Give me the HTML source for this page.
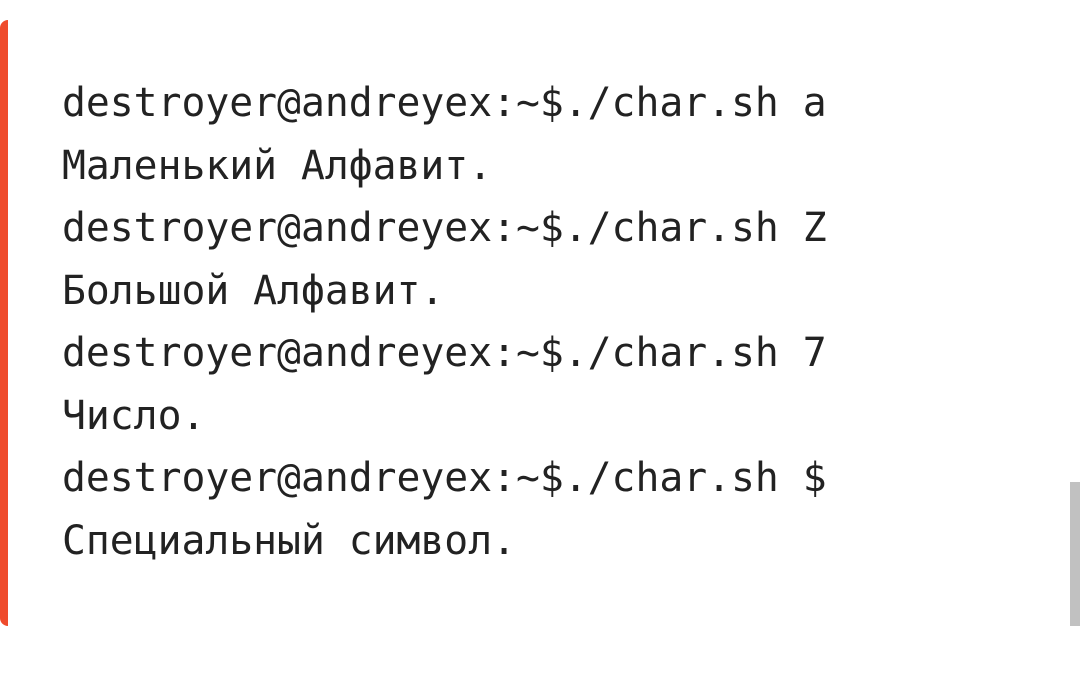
<!DOCTYPE html>
<html><head><meta charset="utf-8"><style>
html,body{margin:0;padding:0;background:#fff;width:1080px;height:679px;overflow:hidden;position:relative}
.bar{position:absolute;left:0;top:20px;width:8px;height:606px;background:#ef4b2c;border-radius:8px 0 0 8px}
.sb{position:absolute;left:1070px;top:482px;width:10px;height:144px;background:#c1c1c1}
pre{position:absolute;left:62px;top:72px;margin:0;font-family:"DejaVu Sans Mono","Liberation Mono",monospace;font-size:39.7px;line-height:62.5px;color:#222}
</style></head><body>
<div class="bar"></div>
<div class="sb"></div>
<pre>destroyer@andreyex:~$./char.sh a
Маленький Алфавит.
destroyer@andreyex:~$./char.sh Z
Большой Алфавит.
destroyer@andreyex:~$./char.sh 7
Число.
destroyer@andreyex:~$./char.sh $
Специальный символ.</pre>
</body></html>
